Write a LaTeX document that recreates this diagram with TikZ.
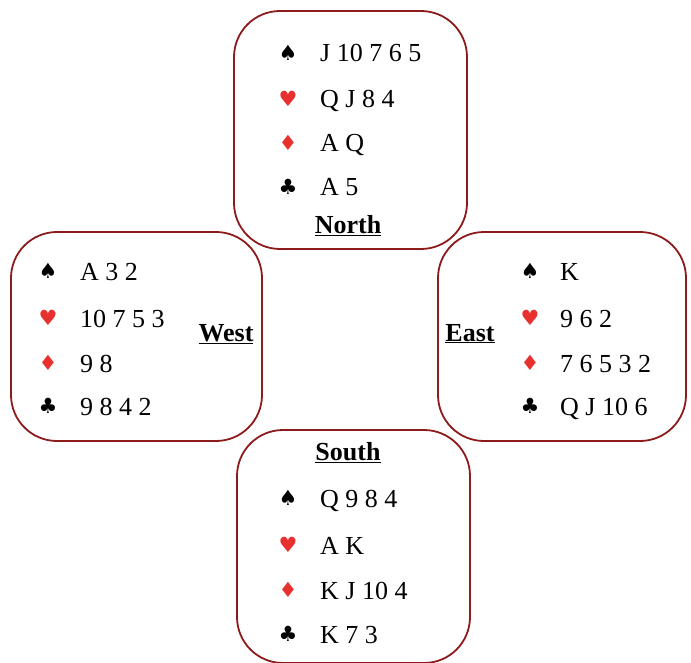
\documentclass[tikz,border=0pt]{standalone}
\usepackage{fontspec}
\setmainfont{Liberation Serif}
\newfontfamily\suitfont{DejaVu Sans}
\definecolor{boxred}{HTML}{8E1B1B}
\definecolor{suitred}{HTML}{E8302E}
\begin{document}
\begin{tikzpicture}[x=1pt,y=-1pt,
  handbox/.style={draw=boxred,line width=1.8pt,rounded corners=46pt,inner sep=0pt},
  cards/.style={anchor=base west,inner sep=0pt,font=\fontsize{26}{30}\selectfont},
  suit/.style={inner sep=0pt,font=\suitfont\fontsize{21}{24}\selectfont},
  redsuit/.style={suit,text=suitred},
  seat/.style={anchor=base,inner sep=0pt,font=\fontsize{26}{30}\selectfont\bfseries}]
\useasboundingbox (0,0) rectangle (691,663);
% boxes
\draw[handbox] (234,11) rectangle (467,249);
\draw[handbox] (11,232) rectangle (262,441);
\draw[handbox] (438,232) rectangle (686,441);
\draw[handbox] (237,430) rectangle (470,663);
% North
\node[suit] (ns) at (288,53) {♠};
\node[redsuit] (nh) at (288,99) {♥};
\node[redsuit] (nd) at (288,143) {♦};
\node[suit] (nc) at (288,187) {♣};
\node[cards] (nst) at (320,62) {J 10 7 6 5};
\node[cards] (nht) at (320,108) {Q J 8 4};
\node[cards] (ndt) at (320,152) {A Q};
\node[cards] (nct) at (320,196) {A 5};
\node[seat] (north) at (348,234) {\underline{North}};
% West
\node[suit] (ws) at (48,271) {♠};
\node[redsuit] (wh) at (48,318) {♥};
\node[redsuit] (wd) at (48,363) {♦};
\node[suit] (wc) at (48,406) {♣};
\node[cards] (wst) at (80,280) {A 3 2};
\node[cards] (wht) at (80,327) {10 7 5 3};
\node[cards] (wdt) at (80,372) {9 8};
\node[cards] (wct) at (80,415) {9 8 4 2};
\node[seat] (west) at (226,341) {\underline{West}};
% East
\node[suit] (es) at (530,271) {♠};
\node[redsuit] (eh) at (530,318) {♥};
\node[redsuit] (ed) at (530,363) {♦};
\node[suit] (ec) at (530,406) {♣};
\node[cards] (est) at (560,280) {K};
\node[cards] (eht) at (560,327) {9 6 2};
\node[cards] (edt) at (560,372) {7 6 5 3 2};
\node[cards] (ect) at (560,415) {Q J 10 6};
\node[seat] (east) at (470,341) {\underline{East}};
% South
\node[seat] (south) at (348,460) {\underline{South}};
\node[suit] (ss) at (288,498) {♠};
\node[redsuit] (sh) at (288,545) {♥};
\node[redsuit] (sd) at (288,590) {♦};
\node[suit] (sc) at (288,634) {♣};
\node[cards] (sst) at (320,507) {Q 9 8 4};
\node[cards] (sht) at (320,554) {A K};
\node[cards] (sdt) at (320,599) {K J 10 4};
\node[cards] (sct) at (320,643) {K 7 3};
\end{tikzpicture}
\end{document}
